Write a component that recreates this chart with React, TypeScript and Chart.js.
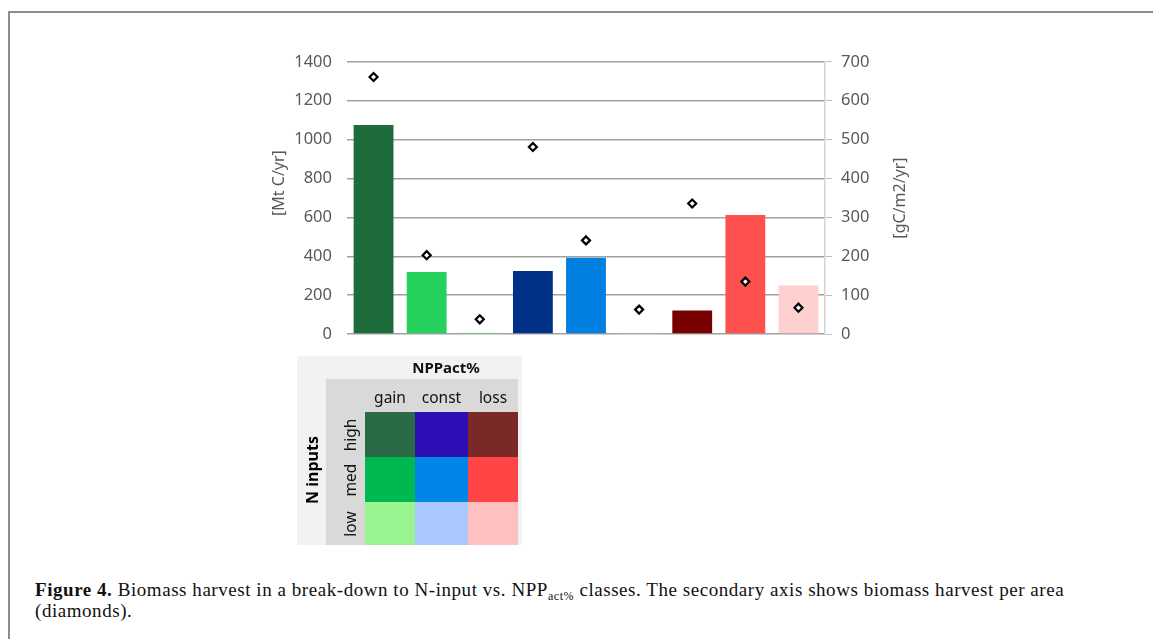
import React, { useEffect, useRef } from "react";
import { Chart, registerables } from "chart.js";

Chart.register(...registerables);

// Classes: N-input (high/med/low) within NPPact% class (gain/const/loss)
const classLabels = [
  "gain-high", "gain-med", "gain-low",
  "const-high", "const-med", "const-low",
  "loss-high", "loss-med", "loss-low",
];

// Biomass harvest, Mt C/yr (primary axis)
const harvestTotal = [1075, 319, 7, 324, 393, 7, 122, 612, 250];

// Biomass harvest per area, gC/m2/yr (secondary axis, diamonds)
const harvestPerArea = [661, 203, 38, 481, 241, 63, 336, 135, 68];

const barColors = [
  "#1e6b3c", "#26d05c", "#98ee8e",
  "#003087", "#0080e0", "#c4e4f8",
  "#780000", "#ff5050", "#ffd0d0",
];

const leftTicks = { min: 0, max: 1400, step: 200 };
const rightTicks = { min: 0, max: 700, step: 100 };

const leftTitle = "[Mt C/yr]";
const rightTitle = "[gC/m2/yr]";

// Legend matrix
const nppClasses = ["gain", "const", "loss"];
const nInputs = ["high", "med", "low"];
const legendColors = [
  ["#2a6a45", "#2e0db5", "#7a2828"],
  ["#00b850", "#0085e8", "#ff4545"],
  ["#98f590", "#a8c8ff", "#ffc0c0"],
];

const FONT = "'Noto Sans', 'Open Sans', sans-serif";

const axisTitles = {
  id: "axisTitles",
  afterDraw(chart: any) {
    const ctx = chart.ctx;
    const area = chart.chartArea;
    const draw = (text: string, x: number, y: number) => {
      ctx.save();
      ctx.fillStyle = "#595959";
      ctx.font = `16px ${FONT}`;
      ctx.textAlign = "center";
      ctx.textBaseline = "middle";
      ctx.translate(x, y);
      ctx.rotate(-Math.PI / 2);
      ctx.fillText(text, 0, 0);
      ctx.restore();
    };
    draw(leftTitle, 29, area.top + (area.bottom - area.top) * 0.445);
    draw(rightTitle, 650, area.top + (area.bottom - area.top) * 0.5);
  },
};

function HarvestChart() {
  const ref = useRef<HTMLCanvasElement>(null);
  useEffect(() => {
    if (!ref.current) return;
    const chart = new Chart(ref.current, {
      type: "bar",
      data: {
        labels: classLabels,
        datasets: [
          {
            type: "line",
            data: harvestPerArea,
            yAxisID: "y1",
            showLine: false,
            pointStyle: "rectRot",
            pointRadius: 4,
            pointBorderWidth: 2.2,
            pointBorderColor: "#000000",
            pointBackgroundColor: "#ffffff",
            order: 0,
          } as any,
          {
            type: "bar",
            data: harvestTotal,
            yAxisID: "y",
            backgroundColor: barColors,
            borderWidth: 0,
            categoryPercentage: 1,
            barPercentage: 0.75,
            order: 1,
          },
        ],
      },
      options: {
        animation: false,
        responsive: false,
        devicePixelRatio: 1,
        layout: { padding: { top: 16, bottom: 12, left: 0, right: 0 } },
        plugins: { legend: { display: false }, tooltip: { enabled: false } },
        scales: {
          x: { display: false },
          y: {
            position: "left",
            min: leftTicks.min,
            max: leftTicks.max,
            ticks: {
              stepSize: leftTicks.step,
              color: "#595959",
              font: { family: FONT, size: 16.5 },
              padding: 15,
              callback: (v: any) => String(v),
            },
            grid: { color: "#a0a0a0", lineWidth: 1.5, drawTicks: false },
            border: { display: false },
            afterFit: (s: any) => { s.width = 97; },
          },
          y1: {
            position: "right",
            min: rightTicks.min,
            max: rightTicks.max,
            ticks: {
              stepSize: rightTicks.step,
              color: "#595959",
              font: { family: FONT, size: 16.5 },
              padding: 9,
              callback: (v: any) => String(v),
            },
            grid: { drawOnChartArea: false, tickLength: 7, color: "#bfbfbf" },
            border: { display: true, color: "#d4d4d4", width: 1.5 },
            afterFit: (s: any) => { s.width = 125; },
          },
        },
      },
      plugins: [axisTitles],
    });
    return () => chart.destroy();
  }, []);
  return (
    <canvas
      ref={ref}
      width={700}
      height={322}
      style={{ position: "absolute", left: 250, top: 37, width: 700, height: 322 }}
    />
  );
}

function Legend() {
  const cellW = [50, 53, 50];
  const cellH = [45, 45, 43];
  const colX = [365, 415, 468];
  const rowY = [412, 457, 502];
  return (
    <div style={{ fontFamily: FONT }}>
      <div style={{ position: "absolute", left: 297, top: 356, width: 225, height: 189, background: "#f2f2f2" }} />
      <div style={{ position: "absolute", left: 326, top: 379, width: 192, height: 166, background: "#d9d9d9" }} />
      <div style={{ position: "absolute", left: 365, top: 356, width: 162, height: 23, lineHeight: "23px", textAlign: "center", fontWeight: 700, fontSize: 15, color: "#111" }}>
        NPPact%
      </div>
      {nppClasses.map((c, i) => (
        <div key={c} style={{ position: "absolute", left: colX[i], top: 386, width: cellW[i], textAlign: "center", fontSize: 15.5, lineHeight: "22px", color: "#111" }}>
          {c}
        </div>
      ))}
      {nInputs.map((r, j) => (
        <div key={r} style={{ position: "absolute", left: 350, top: rowY[j] + cellH[j] / 2, transform: "translate(-50%, -50%) rotate(-90deg)", fontSize: 15.5, lineHeight: "18px", color: "#111", whiteSpace: "nowrap" }}>
          {r}
        </div>
      ))}
      <div style={{ position: "absolute", left: 312, top: 470, transform: "translate(-50%, -50%) rotate(-90deg)", fontSize: 16, fontWeight: 700, lineHeight: "20px", color: "#000", whiteSpace: "nowrap" }}>
        N inputs
      </div>
      {legendColors.map((row, j) =>
        row.map((col, i) => (
          <div key={`${i}-${j}`} style={{ position: "absolute", left: colX[i], top: rowY[j], width: cellW[i], height: cellH[j], background: col }} />
        ))
      )}
    </div>
  );
}

export default function App() {
  return (
    <div style={{ position: "absolute", left: 0, top: 0, width: 1153, height: 639, overflow: "hidden", background: "#fff" }}>
      <div style={{ position: "absolute", left: 8, top: 11, width: 1200, height: 700, borderTop: "2px solid #8c8c8c", borderLeft: "2px solid #8c8c8c" }} />
      <HarvestChart />
      <Legend />
      <div style={{ position: "absolute", left: 35, top: 579, width: 1110, fontFamily: "'Liberation Serif', 'DejaVu Serif', serif", fontSize: 19, letterSpacing: "0.55px", lineHeight: "21px", color: "#111", whiteSpace: "nowrap" }}>
        <b>Figure 4.</b> Biomass harvest in a break-down to N-input vs. NPP<sub style={{ fontSize: 12, verticalAlign: "-4px", lineHeight: 0 }}>act%</sub> classes. The secondary axis shows biomass harvest per area
        <br />
        (diamonds).
      </div>
    </div>
  );
}
